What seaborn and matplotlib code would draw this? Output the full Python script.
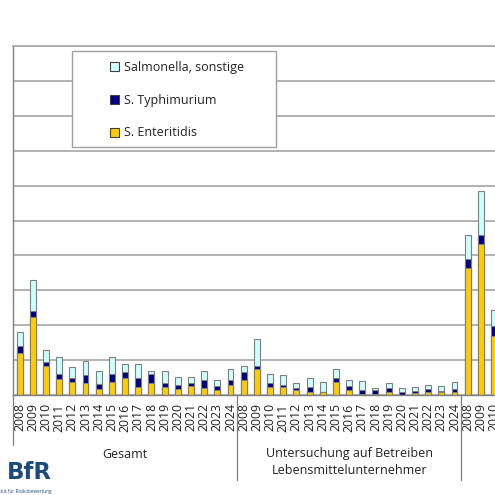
import numpy as np
import pandas as pd
import seaborn as sns
import matplotlib
matplotlib.use("Agg")
import matplotlib.pyplot as plt
from matplotlib.patches import Patch, Rectangle
from matplotlib.transforms import blended_transform_factory

# ---------------- data (in grid units) ----------------
years = [str(y) for y in range(2008, 2025)]
years_third = ["2008", "2009", "2010"]

group_labels = ["Gesamt", "Untersuchung auf Betreiben", "Lebensmittelunternehmer"]
series_labels = ["Salmonella, sonstige", "S. Typhimurium", "S. Enteritidis"]

gesamt_enteritidis = [1.19, 2.23, 0.84, 0.45, 0.38, 0.34, 0.18, 0.38, 0.48, 0.24, 0.33, 0.24, 0.16, 0.25, 0.20, 0.15, 0.30]
gesamt_typhimurium = [0.21, 0.17, 0.11, 0.14, 0.12, 0.24, 0.13, 0.21, 0.17, 0.26, 0.27, 0.11, 0.14, 0.09, 0.23, 0.11, 0.13]
gesamt_sonstige    = [0.40, 0.89, 0.35, 0.50, 0.29, 0.40, 0.38, 0.51, 0.24, 0.39, 0.09, 0.34, 0.21, 0.17, 0.27, 0.18, 0.32]

lmu_enteritidis = [0.43, 0.74, 0.24, 0.22, 0.15, 0.10, 0.10, 0.38, 0.13, 0.04, 0.04, 0.08, 0.00, 0.06, 0.08, 0.08, 0.09]
lmu_typhimurium = [0.22, 0.10, 0.10, 0.06, 0.05, 0.13, 0.00, 0.12, 0.13, 0.10, 0.11, 0.11, 0.10, 0.05, 0.09, 0.03, 0.08]
lmu_sonstige    = [0.19, 0.77, 0.25, 0.29, 0.14, 0.25, 0.26, 0.25, 0.18, 0.25, 0.04, 0.15, 0.09, 0.13, 0.11, 0.14, 0.19]

third_enteritidis = [3.63, 4.33, 1.70]
third_typhimurium = [0.27, 0.26, 0.28]
third_sonstige    = [0.69, 1.26, 0.46]

# ---------------- table ----------------
rows = []
for grp, yrs, ent, typ, son in [
    ("G", years, gesamt_enteritidis, gesamt_typhimurium, gesamt_sonstige),
    ("L", years, lmu_enteritidis, lmu_typhimurium, lmu_sonstige),
    ("T", years_third, third_enteritidis, third_typhimurium, third_sonstige),
]:
    for y, e, t, s in zip(yrs, ent, typ, son):
        rows.append({"key": f"{grp}{y}", "year": y, "ent": e, "typ": t, "son": s})
df = pd.DataFrame(rows)
df["top_typ"] = df["ent"] + df["typ"]
df["total"] = df["top_typ"] + df["son"]
order = list(df["key"])
n = len(order)

# ---------------- style ----------------
sns.set_style("white")
plt.rcParams["font.family"] = ["Open Sans", "DejaVu Sans"]

W = H = 495
fig = plt.figure(figsize=(W / 100, H / 100), dpi=100)
slot = 13.18
n_axes_slots = 51
ax = fig.add_axes([13 / W, 100 / H, n_axes_slots * slot / W, 349 / H])

c_son, c_typ, c_ent = "#CCFFFF", "#000080", "#FFCC00"
edge = "#7f7f7f"
common = dict(x="key", order=order, errorbar=None, width=0.45, saturation=1,
              edgecolor=edge, linewidth=0.8, ax=ax)
sns.barplot(data=df, y="total", color=c_son, **common)
sns.barplot(data=df, y="top_typ", color=c_typ, **common)
sns.barplot(data=df, y="ent", color=c_ent, **common)

ax.set_xlim(-0.5, n_axes_slots - 0.5)
ax.set_ylim(0, 10)
ax.set_xlabel("")
ax.set_ylabel("")

grid_c = "#a6a6a6"
ax.set_yticks(range(0, 11))
ax.set_yticklabels([])
ax.yaxis.grid(True, color=grid_c, lw=1.2)
ax.set_axisbelow(True)
ax.tick_params(axis="y", length=4, color=edge, width=0.8, direction="out")

ax.spines["right"].set_visible(False)
ax.spines["top"].set_color(grid_c)
ax.spines["top"].set_linewidth(1.2)
ax.spines["left"].set_color(edge)
ax.spines["left"].set_linewidth(1.0)
ax.spines["bottom"].set_color(edge)
ax.spines["bottom"].set_linewidth(1.0)

ax.set_xticks(range(n))
ax.set_xticklabels(list(df["year"]), rotation=90, fontsize=8.8, color="#222222")
ax.tick_params(axis="x", which="major", length=0, pad=6)
ax.set_xticks(np.arange(-0.5, n, 1.0), minor=True)
ax.tick_params(axis="x", which="minor", length=26.5, color=edge, width=0.8, direction="out")

# group separators
tr = blended_transform_factory(ax.transData, fig.transFigure)
for xsep, ybot in [(-0.5, 445), (16.5, 480), (33.5, 480)]:
    ax.plot([xsep, xsep], [(H - 395) / H, (H - ybot) / H], color=edge, lw=0.9,
            transform=tr, clip_on=False)

ax.text(8, (H - 454) / H, group_labels[0], transform=tr, ha="center", va="center",
        fontsize=9, color="#222222")
ax.text(25, (H - 454) / H, group_labels[1], transform=tr, ha="center", va="center",
        fontsize=9, color="#222222")
ax.text(25, (H - 471) / H, group_labels[2], transform=tr, ha="center", va="center",
        fontsize=9, color="#222222")

# legend box
fig.patches.append(Rectangle((72 / W, (H - 147) / H), 204 / W, 96 / H,
                             transform=fig.transFigure, facecolor="white",
                             edgecolor="#a0a0a0", lw=1.0, zorder=3))
handles = [Patch(facecolor=c, edgecolor="#404040", lw=0.8) for c in (c_son, c_typ, c_ent)]
leg = fig.legend(handles, series_labels, loc="upper left",
                 bbox_to_anchor=(110 / W, 1 - 61 / H), bbox_transform=fig.transFigure,
                 frameon=False, fontsize=9, handlelength=0.75, handleheight=0.75,
                 handletextpad=0.35, labelspacing=1.58, borderpad=0, borderaxespad=0)
leg.set_zorder(5)
for t in leg.get_texts():
    t.set_color("#222222")

# logo (cropped)
logo_c = "#1c4b7c"
fig.text(52 / W, (H - 479) / H, "BfR", ha="right", va="baseline", fontsize=16.5,
         fontweight="bold", color=logo_c, family="DejaVu Sans")
fig.text(52 / W, (H - 491) / H, "Bundesinstitut für Risikobewertung", ha="right",
         va="center", fontsize=3.3, color=logo_c)

fig.savefig("out.png", dpi=100)
